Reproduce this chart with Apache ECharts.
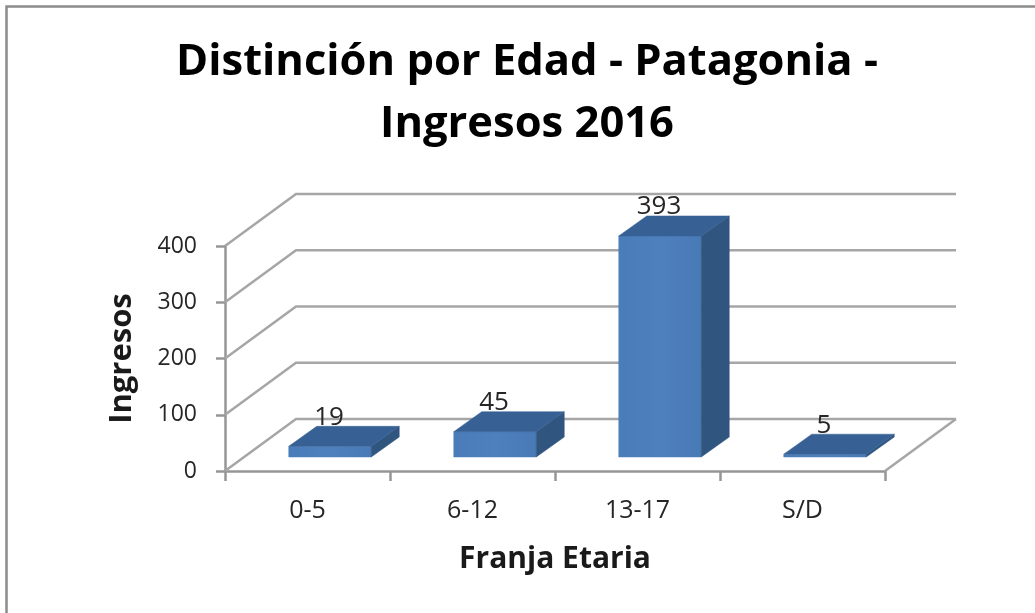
<!DOCTYPE html>
<html><head><meta charset="utf-8">
<style>html,body{margin:0;padding:0;background:#fff}#c{width:1035px;height:613px}</style>
<script src="https://cdn.jsdelivr.net/npm/echarts@6/dist/echarts.min.js"></script>
</head><body><div id="c"></div>
<script>
var categories = ['0-5','6-12','13-17','S/D'];
var ingresos = [19,45,393,5];
var yTicks = [0,100,200,300,400];
var titleText = 'Distinción por Edad - Patagonia -\nIngresos 2016';
var xName = 'Franja Etaria';
var yName = 'Ingresos';

var FONT = '"Open Sans", sans-serif';
var wallDX = 71, wallDY = 52;   // floor depth
var barShiftX = 22.5, barLift = 14, barDX = 28, barDY = 20, barRatio = 0.5;

var chart = echarts.init(document.getElementById('c'), null, {renderer:'canvas'});
chart.setOption({
  animation:false,
  backgroundColor:'#fff',
  graphic:[{type:'polyline',silent:true,z:0,
    shape:{points:[[6.5,613],[6.5,6.5],[1035,6.5]]},
    style:{fill:null,stroke:'#8c8c8c',lineWidth:2.5}}],
  title:{text:titleText,left:522,top:27,textAlign:'center',
    textStyle:{fontFamily:FONT,fontSize:43.5,fontWeight:'bold',color:'#000',lineHeight:62}},
  grid:{left:225,top:246,width:660,height:225},
  xAxis:{type:'category',data:categories,
    name:xName,nameLocation:'middle',nameGap:73,
    nameTextStyle:{fontFamily:FONT,fontSize:30,fontWeight:'bold',color:'#1a1a1a'},
    axisLine:{lineStyle:{color:'#969696',width:2.5}},
    axisTick:{show:true,length:10,alignWithLabel:false,lineStyle:{color:'#969696',width:2.5}},
    axisLabel:{fontFamily:FONT,fontSize:25,color:'#262626',margin:27},
    splitLine:{show:false}},
  yAxis:{type:'value',min:0,max:400,interval:100,
    name:yName,nameLocation:'middle',nameGap:87,
    nameTextStyle:{fontFamily:FONT,fontSize:31,fontWeight:'bold',color:'#1a1a1a'},
    axisLine:{show:true,lineStyle:{color:'#969696',width:2.5}},
    axisTick:{show:true,length:9,lineStyle:{color:'#969696',width:2.5}},
    axisLabel:{fontFamily:FONT,fontSize:23,color:'#262626',margin:28},
    splitLine:{show:false}},
  series:[
    {type:'custom',coordinateSystem:'cartesian2d',clip:false,silent:true,z:1,
     data:yTicks.map(function(t){return [0,t];}),
     encode:{x:0,y:1},
     renderItem:function(params,api){
       var g=params.coordSys, y=api.coord([0,api.value(1)])[1];
       var children=[{type:'polyline',
         shape:{points:[[g.x,y],[g.x+wallDX,y-wallDY],[g.x+g.width+wallDX,y-wallDY]]},
         style:{fill:null,stroke:'#a6a6a6',lineWidth:2.5}}];
       if(api.value(1)===0){
         children.push({type:'line',
           shape:{x1:g.x+g.width,y1:y,x2:g.x+g.width+wallDX,y2:y-wallDY},
           style:{stroke:'#a6a6a6',lineWidth:2.5}});
       }
       return {type:'group',children:children};
     }},
    {type:'custom',coordinateSystem:'cartesian2d',clip:false,silent:true,z:3,
     data:ingresos.map(function(v,i){return [i,v];}),
     encode:{x:0,y:1},
     renderItem:function(params,api){
       var i=api.value(0), v=api.value(1);
       var base=api.coord([i,0]), top=api.coord([i,v]);
       var w=api.size([1,0])[0]*barRatio;
       var x0=base[0]+barShiftX-w/2, x1=x0+w;
       var yb=base[1]-barLift, yt=top[1]-barLift;
       var poly=function(p,c){return {type:'polygon',shape:{points:p},style:{fill:c,stroke:c,lineWidth:0.5}};};
       return {type:'group',children:[
         poly([[x0,yb],[x1,yb],[x1,yt],[x0,yt]],
           new echarts.graphic.LinearGradient(0,0,1,0,[{offset:0,color:'#4a7cb9'},{offset:0.5,color:'#4f80be'},{offset:1,color:'#487ab6'}])),
         poly([[x1,yb],[x1+barDX,yb-barDY],[x1+barDX,yt-barDY],[x1,yt]],'#30557f'),
         poly([[x0,yt],[x1,yt],[x1+barDX,yt-barDY],[x0+barDX,yt-barDY]],'#376194'),
         {type:'text',style:{text:String(v),x:x0+w/2-1,y:yt-29,align:'center',verticalAlign:'middle',
           font:'26px '+FONT,fill:'#262626'},z2:10}
       ]};
     }}
  ]
});
</script></body></html>
